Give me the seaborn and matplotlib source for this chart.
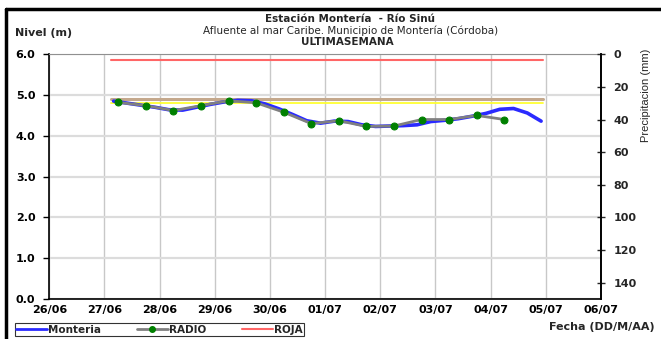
import pandas as pd
import seaborn as sns
import matplotlib.pyplot as plt
import matplotlib.dates as mdates
from matplotlib.lines import Line2D

# RADIO readings, every 12 hours
radio_times = pd.date_range("2024-06-27 06:00", periods=15, freq="12h")
radio_level = [4.82, 4.74, 4.62, 4.74, 4.86, 4.81, 4.58, 4.30,
               4.37, 4.23, 4.24, 4.40, 4.40, 4.50, 4.40]

# Monteria sensor, every 6 hours
monteria_times = pd.date_range("2024-06-27 04:00", periods=32, freq="6h")
monteria_level = [4.85, 4.80, 4.75, 4.70, 4.64, 4.63, 4.70, 4.77,
                  4.83, 4.87, 4.86, 4.78, 4.66, 4.52, 4.37, 4.31,
                  4.36, 4.35, 4.27, 4.23, 4.24, 4.25, 4.27, 4.35,
                  4.38, 4.42, 4.48, 4.55, 4.65, 4.67, 4.56, 4.36]

# alert thresholds
threshold_span = pd.to_datetime(["2024-06-27 03:00", "2024-07-04 23:00"])
roja_level = 5.86
naranja_level = 4.90
amarilla_level = 4.80

day_ticks = pd.date_range("2024-06-26", "2024-07-06", freq="D")

sns.set_style("white")
plt.rcParams['font.family'] = ['DejaVu Sans']

fig = plt.figure(figsize=(6.61, 3.39), dpi=100)
ax = fig.add_axes([0.0746, 0.118, 0.8344, 0.722])

ax.grid(axis="y", color="#dcdcdc", lw=1.6)
ax.grid(axis="x", color="#c8c8c8", lw=1.0)
ax.set_axisbelow(True)

ax.plot(threshold_span, [roja_level] * 2, color="#ff6666", lw=1.5)
ax.plot(threshold_span, [naranja_level] * 2, color="#c4a88c", lw=2.2)
ax.plot(threshold_span, [amarilla_level] * 2, color="#ffff33", lw=1.3)

mon = pd.DataFrame({"t": monteria_times, "nivel": monteria_level})
rad = pd.DataFrame({"t": radio_times, "nivel": radio_level})
sns.lineplot(data=mon, x="t", y="nivel", ax=ax, color="#2a2aff", lw=2.6)
sns.lineplot(data=rad, x="t", y="nivel", ax=ax, color="#808080", lw=2.0,
             marker="o", markersize=5, markerfacecolor="#008000",
             markeredgecolor="#008000")

ax.set_xlim(day_ticks[0], day_ticks[-1])
ax.set_ylim(0, 6)
ax.set_xticks(day_ticks)
ax.xaxis.set_major_formatter(mdates.DateFormatter("%d/%m"))
ax.set_yticks([0, 1, 2, 3, 4, 5, 6])
ax.set_yticklabels([f"{v:.1f}" for v in range(7)])
ax.set_xlabel("")
ax.set_ylabel("")
ax.tick_params(axis="both", labelsize=8, length=4, width=1, colors="black")
ax.tick_params(axis="x", direction="inout", pad=2)
ax.tick_params(axis="y", direction="out", pad=6)
for lab in ax.get_xticklabels() + ax.get_yticklabels():
    lab.set_fontweight("bold")

for side in ["left", "bottom", "right"]:
    ax.spines[side].set_color("black")
    ax.spines[side].set_linewidth(1.2)
ax.spines["top"].set_color("#909090")

# precipitation axis (inverted, empty)
ax2 = ax.twinx()
ax2.set_ylim(150, 0)
ax2.set_yticks(range(0, 141, 20))
ax2.tick_params(axis="y", labelsize=8, direction="inout", length=6, width=1, pad=6)
for lab in ax2.get_yticklabels():
    lab.set_fontweight("bold")
for side in ["left", "bottom", "top"]:
    ax2.spines[side].set_visible(False)
ax2.spines["right"].set_color("black")
ax2.spines["right"].set_linewidth(1.2)
fig.text(0.978, 0.72, "Precipitacion (mm)", rotation=90, ha="center", va="center",
         fontsize=8, family="Liberation Sans")

# titles
fig.text(0.53, 0.944, "Estación Montería  - Río Sinú", ha="center", va="center",
         fontsize=7.5, fontweight="bold")
fig.text(0.53, 0.910, "Afluente al mar Caribe. Municipio de Montería (Córdoba)",
         ha="center", va="center", fontsize=7.5)
fig.text(0.525, 0.876, "ULTIMASEMANA", ha="center", va="center",
         fontsize=7.5, fontweight="bold")
fig.text(0.022, 0.903, "Nivel (m)", ha="left", va="center", fontsize=8,
         fontweight="bold")
fig.text(0.99, 0.035, "Fecha (DD/M/AA)", ha="right", va="center", fontsize=8,
         fontweight="bold")

handles = [Line2D([], [], color="#2a2aff", lw=2),
           Line2D([], [], color="#808080", lw=2, marker="o", markersize=4,
                  markerfacecolor="#008000", markeredgecolor="#008000"),
           Line2D([], [], color="#ff6666", lw=1.5)]
leg = fig.legend(handles, ["Monteria", "RADIO", "ROJA"], ncol=3,
                 loc="lower left", bbox_to_anchor=(0.022, 0.008),
                 prop={"size": 7.5, "weight": "bold"}, frameon=True,
                 fancybox=False, edgecolor="black", borderpad=0.15,
                 handlelength=3.0, handletextpad=0.1, columnspacing=3.4,
                 borderaxespad=0)
leg.get_frame().set_linewidth(0.8)

# partial outer frame (top and left edges)
fig.add_artist(Line2D([0.009, 1.0], [0.972, 0.972], color="black", lw=2.5,
                      transform=fig.transFigure))
fig.add_artist(Line2D([0.009, 0.009], [0.0, 0.972], color="black", lw=2.5,
                      transform=fig.transFigure))

fig.savefig("out.png", dpi=100)
